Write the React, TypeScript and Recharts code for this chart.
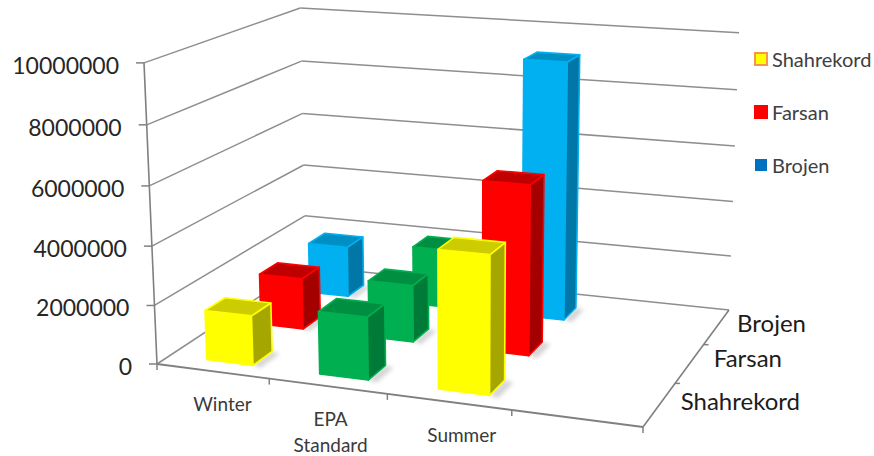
import React from "react";
import { BarChart, Bar, XAxis, YAxis, Legend, Customized } from "recharts";

const categories = ["Winter", "EPA Standard", "Summer", ""];
const shahrekord = [1690000, 2100000, 4560000, null];
const farsan = [1810000, 1990000, 5830000, null];
const brojen = [1860000, 2120000, 9180000, null];
const yTicks = [0, 2000000, 4000000, 6000000, 8000000, 10000000];
const depthNames = ["Shahrekord", "Farsan", "Brojen"];

const chartRows = categories.map((category, i) => ({
  category,
  Shahrekord: shahrekord[i],
  Farsan: farsan[i],
  Brojen: brojen[i],
}));

const FONT = "Lato, 'Open Sans', sans-serif";
const MAX = 10000000;
const PLOT_H = 301;
const GRID = "#8e8e8e";
const AXIS = "#808080";

type Palette = { front: string; top: string; side: string };
const YELLOW: Palette = { front: "#ffff00", top: "#cccc00", side: "#a6a600" };
const RED: Palette = { front: "#ff0000", top: "#c00000", side: "#a40000" };
const BLUE: Palette = { front: "#00b0f0", top: "#008fc4", side: "#0077a6" };
const GREEN: Palette = { front: "#00b050", top: "#008f41", side: "#007a37" };

// Floor plane: unit square (u along categories, w along depth) to screen.
const q = { ax: 157, ay: 364, bx: 643, by: 427, cx: 729, cy: 310, dx: 306, dy: 266 };
const sx = q.ax - q.bx + q.cx - q.dx;
const sy = q.ay - q.by + q.cy - q.dy;
const d1x = q.bx - q.cx;
const d2x = q.dx - q.cx;
const d1y = q.by - q.cy;
const d2y = q.dy - q.cy;
const den = d1x * d2y - d2x * d1y;
const g = (sx * d2y - d2x * sy) / den;
const h = (d1x * sy - sx * d1y) / den;
const a = q.bx - q.ax + g * q.bx;
const b = q.dx - q.ax + h * q.dx;
const d = q.by - q.ay + g * q.by;
const e = q.dy - q.ay + h * q.dy;

// Vertical lines converge on a point far below the floor.
const VP_X = 467;
const VP_Y = 7550;
const warp = (t: number) => (0.965 * t) / (1 - 0.035 * t);

function project(u: number, w: number, t = 0): [number, number] {
  const k = g * u + h * w + 1;
  const x = (a * u + b * w + q.ax) / k;
  const y = (d * u + e * w + q.ay) / k;
  const lift = warp(t) * (258 + 0.44 * (y - 266));
  return [x + ((x - VP_X) / (VP_Y - y)) * lift, y - lift];
}

const pts = (list: [number, number][]) => list.map((p) => p.join(",")).join(" ");

function line(key: string, p: [number, number], r: [number, number], stroke: string, width = 1.5) {
  return <line key={key} x1={p[0]} y1={p[1]} x2={r[0]} y2={r[1]} stroke={stroke} strokeWidth={width} />;
}

// Walls, floor outline and the depth labels of the 3-D box.
function Box() {
  const parts: React.ReactNode[] = [];
  yTicks.forEach((v) => {
    const t = v / MAX;
    parts.push(line(`l${v}`, project(0, 0, t), project(0, 1, t), GRID));
    parts.push(line(`r${v}`, project(0, 1, t), project(1, 1, t), GRID));
    const [tx, ty] = project(0, 0, t);
    parts.push(line(`t${v}`, [tx - 8, ty], [tx, ty], AXIS));
  });
  parts.push(line("axis", project(0, 0, 0), project(0, 0, 1), AXIS, 1.6));
  parts.push(line("front", project(0, 0), project(1, 0), AXIS, 1.8));
  parts.push(line("right", project(1, 0), project(1, 1), AXIS, 1.6));
  [0, 0.25, 0.5, 0.75, 1].forEach((u) => {
    const [x, y] = project(u, 0);
    parts.push(line(`x${u}`, [x, y], [x, y + 6], AXIS));
  });
  [1 / 3, 2 / 3].forEach((w) => {
    const [x, y] = project(1, w);
    parts.push(line(`z${w}`, [x, y], [x + 5, y], AXIS));
  });
  const depthPos: [number, number][] = [
    [800, 400],
    [782, 357],
    [806, 322],
  ];
  depthNames.forEach((name, i) => {
    parts.push(
      <text key={name} x={depthPos[i][0]} y={depthPos[i][1]} textAnchor="end" dominantBaseline="central"
        fontFamily={FONT} fontSize={24} fill="#1c1c1c">
        {name}
      </text>,
    );
  });
  return <g>{parts}</g>;
}

// Draws one column as a lit cuboid; its height comes from the bar geometry.
function cuboid(depth: number, palette: Palette) {
  return function Cuboid(props: any) {
    const { index, height, value } = props;
    if (value == null || !height) return null;
    const colors = categories[index].startsWith("EPA") ? GREEN : palette;
    const t = height / PLOT_H;
    const u0 = (index + 0.33 + 0.02 * depth) / 4;
    const u1 = (index + 0.745) / 4;
    const w0 = (depth + 0.24) / 3;
    const w1 = (depth + 0.61) / 3;
    const fl = project(u0, w0);
    const fr = project(u1, w0);
    const br = project(u1, w1);
    const ftl = project(u0, w0, t);
    const ftr = project(u1, w0, t);
    const btr = project(u1, w1, t);
    const btl = project(u0, w1, t);
    const shadow = [fr, br, project(u1 + 0.02, w1 - 0.01), project(u1 + 0.02, w0 - 0.01)] as [number, number][];
    const edge = {
      stroke: colors.front,
      strokeWidth: 1.6,
      strokeLinejoin: "round" as const,
    };
    return (
      <g>
        <polygon points={pts(shadow)} fill="#a8a8a8" opacity={0.5} style={{ filter: "blur(2px)" }} />
        <polygon points={pts([fl, fr, ftr, ftl])} fill={colors.front} {...edge} />
        <polygon points={pts([fr, br, btr, ftr])} fill={colors.side} {...edge} />
        <polygon points={pts([ftl, ftr, btr, btl])} fill={colors.top} {...edge} />
      </g>
    );
  };
}

function YTick(props: any) {
  const value = props.payload.value;
  const [x, y] = project(0, 0, value / MAX);
  return (
    <text x={x - 25} y={y + 2} textAnchor="end" dominantBaseline="central" fontFamily={FONT} fontSize={23} fill="#262626">
      {value}
    </text>
  );
}

const labelNudge = [10, 3, 13, 0];

function XTick(props: any) {
  const { index, payload } = props;
  if (!payload.value) return null;
  const [x, y] = project((index + 0.5) / 4, 0);
  const words = String(payload.value).split(" ");
  const cx = x + labelNudge[index];
  return (
    <text textAnchor="middle" fontFamily={FONT} fontSize={19} fill="#3a3a3a">
      {words.map((word, i) => (
        <tspan key={word} x={cx} y={y + 40 + i * 26}>
          {word}
        </tspan>
      ))}
    </text>
  );
}

const legendItems = [
  { name: "Shahrekord", fill: "#ffff00", border: "#f79646", size: 14 },
  { name: "Farsan", fill: "#ff0000", border: "#ff0000", size: 14 },
  { name: "Brojen", fill: "#0070c0", border: "#0070c0", size: 12 },
];

function LegendBox() {
  return (
    <div style={{ fontFamily: FONT, fontSize: 20, color: "#404040" }}>
      {legendItems.map((item) => (
        <div key={item.name} style={{ display: "flex", alignItems: "center", height: 53 }}>
          <span
            style={{
              display: "inline-block",
              boxSizing: "border-box",
              width: item.size,
              height: item.size,
              margin: `0 ${4 + (14 - item.size) / 2}px 0 ${(14 - item.size) / 2}px`,
              background: item.fill,
              border: `2px solid ${item.border}`,
            }}
          />
          {item.name}
        </div>
      ))}
    </div>
  );
}

export default function App() {
  return (
    <div style={{ position: "absolute", left: 0, top: 0, width: 874, height: 456 }}>
      <BarChart width={874} height={456} data={chartRows} margin={{ top: 63, right: 0, bottom: 62, left: 0 }}>
        <Customized component={Box} />
        <XAxis dataKey="category" axisLine={false} tickLine={false} interval={0} tick={XTick} height={30} />
        <YAxis domain={[0, MAX]} ticks={yTicks} axisLine={false} tickLine={false} tick={YTick} width={144} />
        <Legend
          layout="vertical"
          align="right"
          verticalAlign="top"
          content={LegendBox}
          wrapperStyle={{ position: "absolute", left: 754, top: 32, width: 120 }}
        />
        <Bar dataKey="Brojen" fill={BLUE.front} shape={cuboid(2, BLUE)} isAnimationActive={false} />
        <Bar dataKey="Farsan" fill={RED.front} shape={cuboid(1, RED)} isAnimationActive={false} />
        <Bar dataKey="Shahrekord" fill={YELLOW.front} shape={cuboid(0, YELLOW)} isAnimationActive={false} />
      </BarChart>
    </div>
  );
}
